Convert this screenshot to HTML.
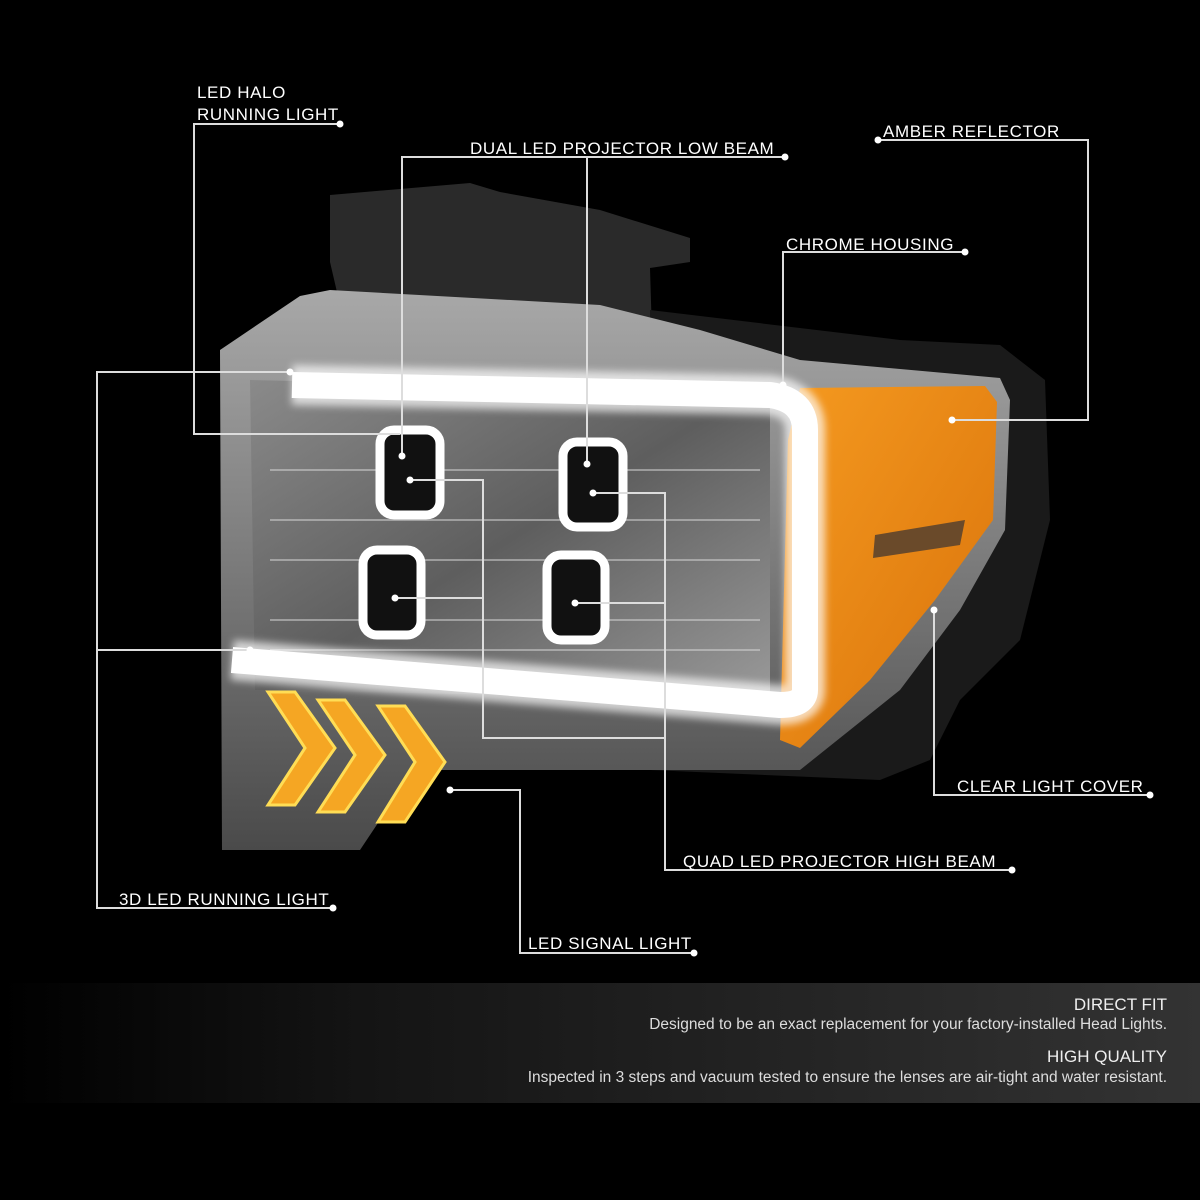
<!DOCTYPE html>
<html><head><meta charset="utf-8"><style>
html,body{margin:0;padding:0;background:#000;}
#c{position:relative;width:1200px;height:1200px;overflow:hidden;background:#000;font-family:"Liberation Sans",sans-serif;}
.band{position:absolute;left:0;top:983px;width:1200px;height:120px;background:linear-gradient(90deg,#000 0%,#141414 30%,#2a2a2a 80%,#333 100%);}
.bt{position:absolute;right:33px;color:#eee;text-align:right;white-space:nowrap;}
</style></head><body><div id="c">
<div class="band"></div>
<div class="bt" style="top:995px;font-size:17px;">DIRECT FIT</div>
<div class="bt" style="top:1016px;font-size:15.5px;color:#ddd;">Designed to be an exact replacement for your factory-installed Head Lights.</div>
<div class="bt" style="top:1047px;font-size:17px;">HIGH QUALITY</div>
<div class="bt" style="top:1069px;font-size:15.5px;color:#ddd;">Inspected in 3 steps and vacuum tested to ensure the lenses are air-tight and water resistant.</div>
<svg width="1200" height="1200" style="position:absolute;left:0;top:0" xmlns="http://www.w3.org/2000/svg">
<defs>
<linearGradient id="chr" x1="0" y1="0" x2="0" y2="1"><stop offset="0" stop-color="#a8a8a8"/><stop offset="0.5" stop-color="#7a7a7a"/><stop offset="1" stop-color="#4a4a4a"/></linearGradient>
<linearGradient id="glass" x1="0" y1="0" x2="1" y2="1"><stop offset="0" stop-color="#8a8a8a"/><stop offset="0.5" stop-color="#5e5e5e"/><stop offset="1" stop-color="#9a9a9a"/></linearGradient>
<linearGradient id="amb" x1="0" y1="0" x2="1" y2="1"><stop offset="0" stop-color="#f59a20"/><stop offset="1" stop-color="#d9720a"/></linearGradient>
<filter id="glow"><feGaussianBlur stdDeviation="4"/></filter>
</defs>
<polygon points="330,195 470,183 500,192 600,210 690,238 690,262 650,268 652,335 340,305 330,262" fill="#2a2a2a"/>
<polygon points="650,310 900,340 1000,345 1045,380 1050,520 1020,640 960,700 930,760 880,780 650,770" fill="#1a1a1a"/>
<path d="M220,350 L300,296 L330,290 L600,305 L700,330 L800,360 L1000,378 L1010,400 L1005,530 L960,610 L900,690 L800,770 L440,770 L400,790 L360,850 L222,850 Z" fill="url(#chr)"/>
<path d="M250,380 L770,392 L770,700 L255,690 Z" fill="url(#glass)"/>
<g stroke="#d8d8d8" stroke-width="2" opacity="0.5">
<line x1="270" y1="470" x2="760" y2="470"/><line x1="270" y1="520" x2="760" y2="520"/><line x1="270" y1="560" x2="760" y2="560"/><line x1="270" y1="620" x2="760" y2="620"/><line x1="270" y1="650" x2="760" y2="650"/>
</g>
<polygon points="800,388 985,386 997,402 993,520 935,600 870,680 800,748 780,740 788,440" fill="url(#amb)"/>
<polygon points="875,535 965,520 960,545 873,558" fill="#6a4a2a"/>
<path d="M292,385 L770,395 Q805,400 805,430 L805,690 Q805,705 780,705 L232,660" fill="none" stroke="#fff" stroke-width="40" filter="url(#glow)" opacity="0.7"/>
<path d="M292,385 L770,395 Q805,400 805,430 L805,690 Q805,705 780,705 L232,660" fill="none" stroke="#fff" stroke-width="26" stroke-linejoin="round"/>
<g fill="#111" stroke="#fff" stroke-width="9">
<rect x="380" y="430" width="60" height="85" rx="14"/>
<rect x="563" y="442" width="60" height="85" rx="14"/>
<rect x="363" y="550" width="58" height="85" rx="14"/>
<rect x="547" y="555" width="58" height="85" rx="14"/>
</g>
<g fill="#f5a623" stroke="#ffdd55" stroke-width="3">
<polygon points="268,692 295,692 335,748 295,805 268,805 305,748"/>
<polygon points="318,700 345,700 385,755 345,812 318,812 355,755"/>
<polygon points="378,706 405,706 445,762 405,822 378,822 415,762"/>
</g>
<g fill="none" stroke="#ddd" stroke-width="2">
<polyline points="340,124 194,124 194,434 400,434"/>
<polyline points="290,372 97,372 97,908 333,908"/>
<line x1="97" y1="650" x2="250" y2="650"/>
<polyline points="402,456 402,157 785,157"/>
<line x1="587" y1="157" x2="587" y2="464"/>
<polyline points="410,480 483,480 483,738 665,738"/>
<line x1="395" y1="598" x2="483" y2="598"/>
<polyline points="593,493 665,493 665,870 1012,870"/>
<line x1="575" y1="603" x2="665" y2="603"/>
<polyline points="965,252 783,252 783,385"/>
<polyline points="878,140 1088,140 1088,420 952,420"/>
<polyline points="934,610 934,795 1150,795"/>
<polyline points="450,790 520,790 520,953 694,953"/>
</g>
<g fill="#fff">
<circle cx="340" cy="124" r="3.5"/><circle cx="290" cy="372" r="3.5"/><circle cx="250" cy="650" r="3.5"/><circle cx="333" cy="908" r="3.5"/>
<circle cx="402" cy="456" r="3.5"/><circle cx="587" cy="464" r="3.5"/><circle cx="785" cy="157" r="3.5"/>
<circle cx="410" cy="480" r="3.5"/><circle cx="395" cy="598" r="3.5"/><circle cx="593" cy="493" r="3.5"/><circle cx="575" cy="603" r="3.5"/><circle cx="1012" cy="870" r="3.5"/>
<circle cx="965" cy="252" r="3.5"/><circle cx="783" cy="385" r="3.5"/><circle cx="878" cy="140" r="3.5"/><circle cx="952" cy="420" r="3.5"/>
<circle cx="934" cy="610" r="3.5"/><circle cx="1150" cy="795" r="3.5"/><circle cx="450" cy="790" r="3.5"/><circle cx="694" cy="953" r="3.5"/>
</g>
<g fill="#fff" font-family="Liberation Sans, sans-serif" font-size="17" letter-spacing="0.6">
<text x="197" y="98">LED HALO</text>
<text x="197" y="120">RUNNING LIGHT</text>
<text x="470" y="154">DUAL LED PROJECTOR LOW BEAM</text>
<text x="883" y="137">AMBER REFLECTOR</text>
<text x="786" y="250">CHROME HOUSING</text>
<text x="957" y="792">CLEAR LIGHT COVER</text>
<text x="683" y="867">QUAD LED PROJECTOR HIGH BEAM</text>
<text x="119" y="905">3D LED RUNNING LIGHT</text>
<text x="528" y="949">LED SIGNAL LIGHT</text>
</g>
</svg>
</div></body></html>
